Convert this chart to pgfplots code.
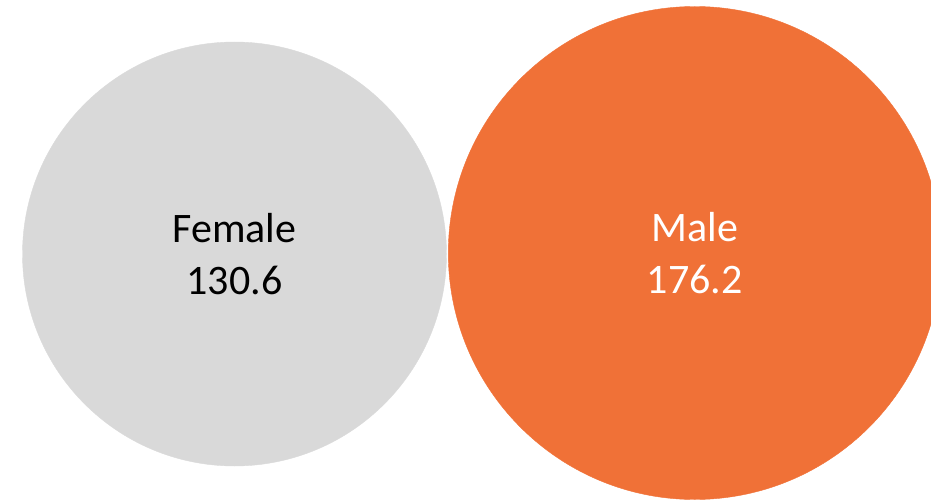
\documentclass[border=0pt]{standalone}
\usepackage{pgfplots}
\pgfplotsset{compat=1.18}
\usepackage{fontspec}
\setmainfont{Carlito}
\definecolor{femgray}{HTML}{D9D9D9}
\definecolor{maleorange}{HTML}{F07137}
\begin{document}
\begin{tikzpicture}
\begin{axis}[
  width=931pt, height=499pt, scale only axis,
  xmin=0, xmax=931, ymin=0, ymax=499,
  hide axis, clip=true,
  /pgf/number format/assume math mode=true,
  /pgf/number format/.cd, fixed, fixed zerofill, precision=1,
]
\addplot[only marks, mark=*, mark size=212pt, color=femgray,
  mark options={draw=femgray, fill=femgray},
  point meta=explicit,
  nodes near coords={Female\\\pgfmathprintnumber{\pgfplotspointmeta}},
  every node near coord/.append style={anchor=center, align=center,
    font=\fontsize{42}{52}\selectfont, text=black}]
  coordinates {(234.5,245) [130.6]};
\addplot[only marks, mark=*, mark size=246.5pt, color=maleorange,
  mark options={draw=maleorange, fill=maleorange},
  point meta=explicit,
  nodes near coords={Male\\\pgfmathprintnumber{\pgfplotspointmeta}},
  every node near coord/.append style={anchor=center, align=center,
    font=\fontsize{42}{52}\selectfont, text=white}]
  coordinates {(694.8,246) [176.2]};
\end{axis}
\pgfresetboundingbox
\useasboundingbox (current axis.south west) rectangle (current axis.north east);
\end{tikzpicture}
\end{document}
